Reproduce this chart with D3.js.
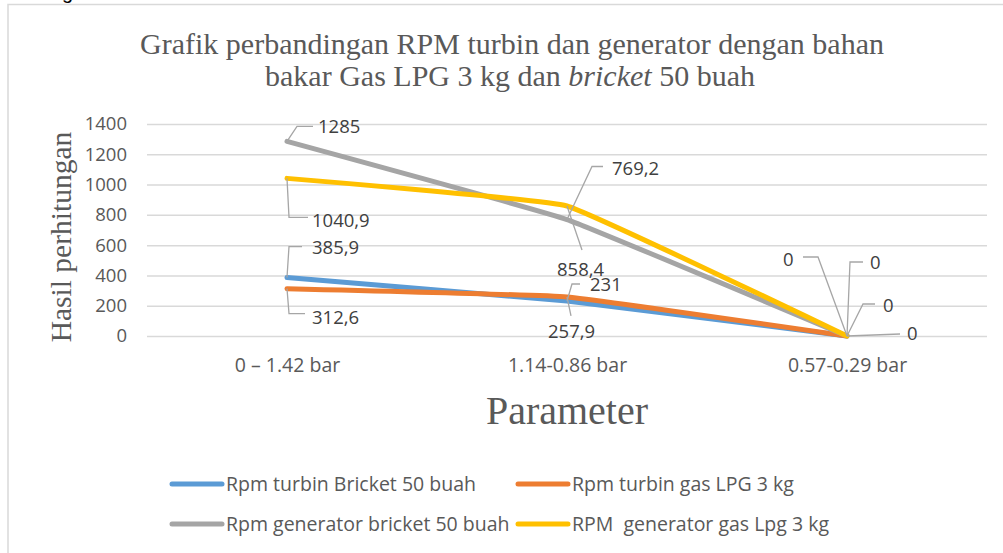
<!DOCTYPE html>
<html>
<head>
<meta charset="utf-8">
<script src="https://cdn.jsdelivr.net/npm/d3@7"></script>
<style>
  body { margin: 0; background: #fff; }
  svg { display: block; }
</style>
</head>
<body>
<script>
const categories = ['0 – 1.42 bar', '1.14-0.86 bar', '0.57-0.29 bar']
const seriesNames = ['Rpm turbin Bricket 50 buah', 'Rpm turbin gas LPG 3 kg', 'Rpm generator bricket 50 buah', 'RPM  generator gas Lpg 3 kg']
const turbinBricket = [385.9, 231, 0]
const turbinLpg = [312.6, 257.9, 0]
const generatorBricket = [1285, 769.2, 0]
const generatorLpg = [1040.9, 858.4, 0]
const yTicks = [0, 200, 400, 600, 800, 1000, 1200, 1400]

const series = [turbinBricket, turbinLpg, generatorBricket, generatorLpg]
const colors = ['#5b9bd5', '#ed7d31', '#a5a5a5', '#ffc000']

// data label leader lines: elbow (ex,ey), horizontal end hx, text at (tx,ty), relative to the point
const labelPos = [
  [{ex: 2, ey: -31, hx: 15, tx: 25, ty: -30}, {ex: 5, ey: -17, hx: 13, tx: 23, ty: -16}, {ex: 16, ey: -32, hx: 28, tx: 36, ty: -30}],
  [{ex: 2, ey: 25, hx: 18, tx: 25, ty: 29}, {ex: 4, ey: 19, hx: 4, tx: -19, ty: 35}, {ex: 53, ey: -2, hx: 53, tx: 60, ty: -2}],
  [{ex: 10, ey: -15, hx: 26, tx: 31, ty: -15}, {ex: 25, ey: -53, hx: 36, tx: 45, ty: -51}, {ex: -29, ey: -79, hx: -44, tx: -64, ty: -76}],
  [{ex: 2, ey: 39, hx: 21, tx: 25, ty: 42}, {ex: 15, ey: 44, hx: 15, tx: -10, ty: 64}, {ex: 3, ey: -74, hx: 16, tx: 23, ty: -73}]
]

const width = 1003
const height = 553
const sans = "'Open Sans', sans-serif"
const serif = "'Liberation Serif', 'DejaVu Serif', serif"

const svg = d3.select('body').append('svg').attr('width', width).attr('height', height)

// cut text at the very top from the page above
svg.append('text').attr('x', 62).attr('y', -1).text('g')
  .style('font-family', "'Liberation Sans', sans-serif").style('font-size', '20px').style('fill', '#000')

// chart frame
svg.append('path').attr('d', 'M8,553 V4.5 H1003').attr('fill', 'none')
  .attr('stroke', '#d9d9d9').attr('stroke-width', 1.5)

const xScale = d3.scalePoint().domain(categories).range([147, 987]).padding(0.5)
const yScale = d3.scaleLinear().domain([0, 1400]).range([336, 124])

// gridlines + y tick labels
const yAxis = d3.axisLeft(yScale).tickValues(yTicks).tickSize(-840).tickPadding(20).tickFormat(d => d)
const gy = svg.append('g').attr('transform', 'translate(147,0)').call(yAxis)
gy.select('.domain').remove()
gy.selectAll('line').attr('stroke', '#d9d9d9').attr('stroke-width', 1.5)
gy.selectAll('text').style('font-family', sans).style('font-size', '18.5px').style('fill', '#595959')

// x tick labels
const xAxis = d3.axisBottom(xScale).tickSize(0).tickPadding(16)
const gx = svg.append('g').attr('transform', 'translate(0,342)').call(xAxis)
gx.select('.domain').remove()
gx.selectAll('text').style('font-family', sans).style('font-size', '19.5px').style('fill', '#595959')

// lines
const line = d3.line().x((d, i) => xScale(categories[i])).y(d => yScale(d)).curve(d3.curveCardinal.tension(0.75))
svg.selectAll('.series').data(series).enter().append('path')
  .attr('class', 'series')
  .attr('d', d => line(d))
  .attr('fill', 'none')
  .attr('stroke', (d, i) => colors[i])
  .attr('stroke-width', 5)
  .attr('stroke-linecap', 'round')

// data labels with leader lines
series.forEach((s, si) => {
  s.forEach((v, i) => {
    const px = xScale(categories[i])
    const py = yScale(v)
    const p = labelPos[si][i]
    svg.append('path')
      .attr('d', `M${px},${py} L${px + p.ex},${py + p.ey} L${px + p.hx},${py + p.ey}`)
      .attr('fill', 'none').attr('stroke', '#a6a6a6').attr('stroke-width', 1.3)
    svg.append('text')
      .attr('x', px + p.tx).attr('y', py + p.ty).attr('dy', '0.35em')
      .text(String(v).replace('.', ','))
      .style('font-family', sans).style('font-size', '18.5px').style('fill', '#404040')
  })
})

// title
const title = svg.append('text').attr('text-anchor', 'middle')
  .style('font-family', serif).style('font-size', '30px').style('fill', '#595959')
title.append('tspan').attr('x', 512).attr('y', 54).text('Grafik perbandingan RPM turbin dan generator dengan bahan')
const t2 = title.append('tspan').attr('x', 510).attr('y', 86)
t2.append('tspan').text('bakar Gas LPG 3 kg dan ')
t2.append('tspan').style('font-style', 'italic').text('bricket')
t2.append('tspan').text(' 50 buah')

// axis titles
svg.append('text').attr('transform', 'translate(71,237) rotate(-90)').attr('text-anchor', 'middle')
  .text('Hasil perhitungan')
  .style('font-family', serif).style('font-size', '29.5px').style('fill', '#595959')
svg.append('text').attr('x', 567).attr('y', 424).attr('text-anchor', 'middle')
  .text('Parameter')
  .style('font-family', serif).style('font-size', '40px').style('fill', '#595959')

// legend
const legendPos = [[172, 484], [518, 484], [172, 524], [518, 524]]
const legend = svg.selectAll('.legend').data(seriesNames).enter().append('g')
  .attr('class', 'legend')
  .attr('transform', (d, i) => `translate(${legendPos[i][0]},${legendPos[i][1]})`)
legend.append('line').attr('x1', 0).attr('x2', 50).attr('y1', 0).attr('y2', 0)
  .attr('stroke', (d, i) => colors[i]).attr('stroke-width', 5).attr('stroke-linecap', 'round')
legend.append('text').attr('x', 54).attr('dy', '0.35em').text(d => d)
  .style('font-family', sans).style('font-size', '19.5px').style('fill', '#595959').style('white-space', 'pre')
</script>
</body>
</html>
